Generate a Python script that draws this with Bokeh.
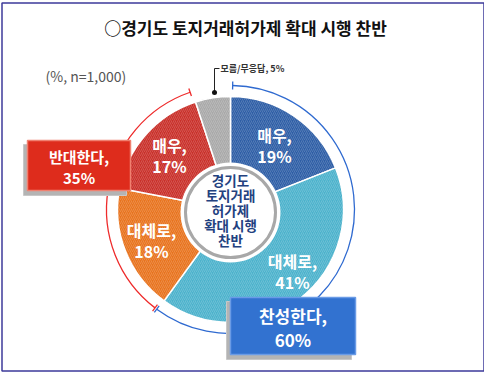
import math
from bokeh.plotting import figure
from bokeh.models import Range1d
from bokeh.embed import file_html
from bokeh.resources import INLINE
from bokeh.core.properties import value

# ---- data ----
title = "○경기도 토지거래허가제 확대 시행 찬반"
note = "(%, n=1,000)"
center_lines = ["경기도", "토지거래", "허가제", "확대 시행", "찬반"]
slice_names = ["매우", "대체로", "대체로", "매우", "모름/무응답"]
slice_values = [19, 41, 18, 17, 5]
group_names = ["찬성한다", "반대한다"]
group_values = [60, 35]

# ---- style ----
FONT = "Noto Sans CJK KR"
slice_colors = ["#2e5ea6", "#4cb2cc", "#e8731e", "#c9302a", "#a9a9a9"]
BLUE_ARC = "#2f6ad0"
RED_ARC = "#ee2b2b"

W, H = 484, 374
def Y(yi):
    return 390 - yi

p = figure(width=W, height=H, x_range=Range1d(8, 492), y_range=Range1d(8, 382),
           output_backend="svg", toolbar_location=None, min_border=0)
p.axis.visible = False
p.grid.visible = False
p.outline_line_color = None
p.background_fill_color = "white"
p.border_fill_color = "white"

# frame border
p.quad(left=[9.5], right=[491.5], bottom=[Y(378.5)], top=[Y(10.5)],
       fill_color=None, line_color="#3d3a9a", line_width=1.5)

# title & note
p.text(x=[253], y=[Y(35)], text=[title], text_font=value(FONT), text_font_size="17px",
       text_font_style="bold", text_align="center", text_baseline="middle", text_color="#111111")
p.text(x=[53], y=[Y(83)], text=[note], text_font=value(FONT), text_font_size="14px",
       text_align="left", text_baseline="middle", text_color="#555555")

cx, cy = 238, Y(217)
R = 113
R_ARC = 124

def ang(pct):
    return math.radians(90 - pct * 3.6)

cum = [0]
for v in slice_values:
    cum.append(cum[-1] + v)
starts = [ang(c) for c in cum[:-1]]
ends = [ang(c) for c in cum[1:]]

p.wedge(x=cx, y=cy, radius=R, start_angle=starts, end_angle=ends, direction="clock",
        fill_color=slice_colors, line_color="white", line_width=1.5,
        hatch_pattern="/", hatch_color="white", hatch_alpha=0.18, hatch_scale=4, hatch_weight=1)

# center circle
p.circle(x=[cx], y=[Y(220)], radius=50, fill_color="white", line_color=None)
p.circle(x=[cx], y=[Y(220)], radius=45, fill_color="white", line_color="#a8a8a8", line_width=3)

cl_y = [187, 202, 217, 232, 247]
p.text(x=[cx] * 5, y=[Y(v) for v in cl_y], text=center_lines, text_font=value(FONT),
       text_font_size="13.5px", text_font_style="bold", text_align="center",
       text_baseline="middle", text_color="#23417f")

# slice labels
lab_pos = [(282, 142), (300, 268), (159, 237), (177, 152)]
for i, (lx, ly) in enumerate(lab_pos):
    p.text(x=[lx, lx], y=[Y(ly), Y(ly + 21)],
           text=[slice_names[i] + ",", f"{slice_values[i]}%"], text_font=value(FONT),
           text_font_size="16px", text_font_style="bold", text_align="center",
           text_baseline="middle", text_color="white")

# 모름/무응답 leader
p.line(x=[222, 222, 227], y=[Y(100), Y(76), Y(76)], line_color="#222222", line_width=1)
p.scatter(x=[222], y=[Y(100)], size=5, fill_color="#111111", line_color=None)
p.text(x=[228], y=[Y(76)], text=[f"{slice_names[4]}, {slice_values[4]}%"], text_font=value(FONT),
       text_font_size="9px", text_font_style="bold", text_align="left", text_baseline="middle",
       text_color="#333333")

# group arcs
g_blue_s = ang(0) - math.radians(1)
g_blue_e = ang(group_values[0]) + math.radians(-0.5)
g_red_s = ang(group_values[0]) - math.radians(1.5)
g_red_e = ang(group_values[0] + group_values[1]) + math.radians(1)
p.arc(x=cx, y=cy, radius=R_ARC, start_angle=g_blue_s, end_angle=g_blue_e, direction="clock",
      line_color=BLUE_ARC, line_width=1.3)
p.arc(x=cx, y=cy, radius=R_ARC, start_angle=g_red_s, end_angle=g_red_e, direction="clock",
      line_color=RED_ARC, line_width=1.3)

def tick(a, color):
    xs = [cx + (R_ARC - 4) * math.cos(a), cx + (R_ARC + 4) * math.cos(a)]
    ys = [cy + (R_ARC - 4) * math.sin(a), cy + (R_ARC + 4) * math.sin(a)]
    p.line(x=xs, y=ys, line_color=color, line_width=1.3)

tick(g_blue_s, BLUE_ARC)
tick(g_blue_e, BLUE_ARC)
tick(g_red_s, RED_ARC)
tick(g_red_e, RED_ARC)

# group boxes
def box(l, r, t, b, fill, edge, lines, size):
    p.quad(left=[l - 4], right=[r - 4], top=[Y(t + 4)], bottom=[Y(b + 5)],
           fill_color="#b4b4b4", line_color="#c8c8c8")
    p.quad(left=[l], right=[r], top=[Y(t)], bottom=[Y(b)], fill_color=fill,
           line_color=edge, line_width=1.5)
    mx = (l + r) / 2
    h = b - t
    p.text(x=[mx, mx], y=[Y(t + h * 0.31), Y(t + h * 0.74)], text=lines, text_font=value(FONT),
           text_font_size=size, text_font_style="bold", text_align="center",
           text_baseline="middle", text_color="white")

box(35, 138, 148, 198, "#de2c1c", "#f08070",
    [group_names[1] + ",", f"{group_values[1]}%"], "15px")
box(238, 363, 305, 362, "#3272d0", "#6a9be6",
    [group_names[0] + ",", f"{group_values[0]}%"], "17px")

open("out.html", "w").write(file_html(p, INLINE))
